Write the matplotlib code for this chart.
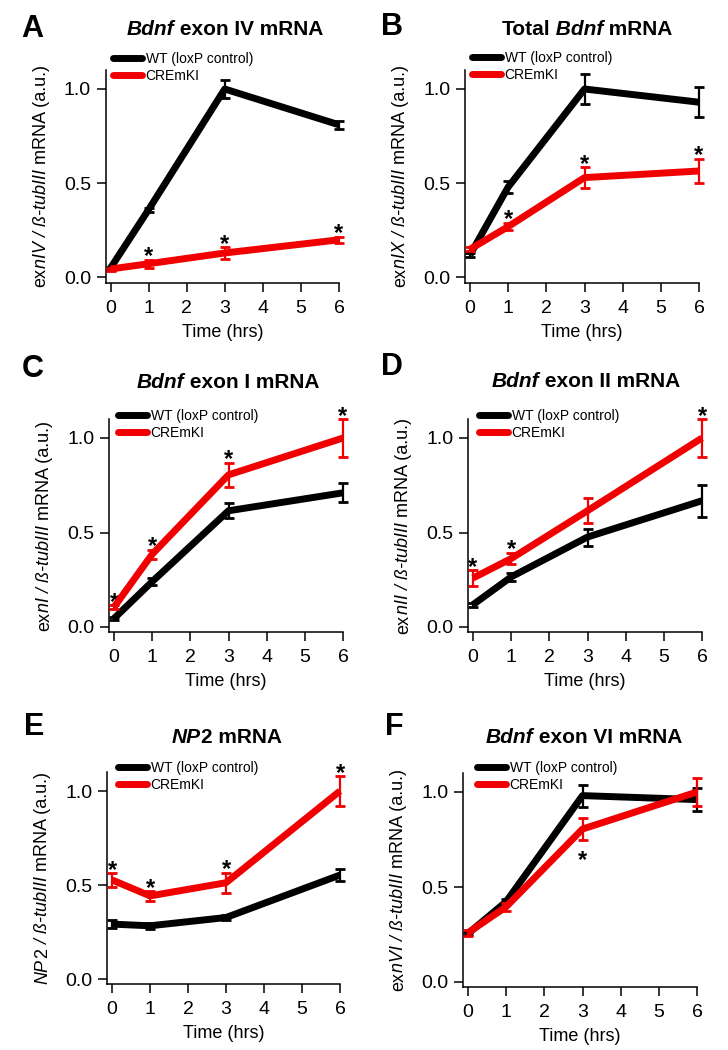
import numpy as np
import matplotlib
matplotlib.use('Agg')
import matplotlib.pyplot as plt
from matplotlib.lines import Line2D

plt.rcParams['font.family'] = ['Liberation Sans', 'DejaVu Sans']

# data
times = [0, 1, 3, 6]

a_wt = [0.05, 0.36, 1.00, 0.81]
a_wt_err = [0.008, 0.01, 0.05, 0.02]
a_cre = [0.045, 0.073, 0.13, 0.20]
a_cre_err = [0.008, 0.02, 0.03, 0.015]
a_stars = [1, 3, 6]

b_wt = [0.12, 0.48, 1.00, 0.93]
b_wt_err = [0.01, 0.03, 0.08, 0.08]
b_cre = [0.15, 0.27, 0.53, 0.565]
b_cre_err = [0.01, 0.02, 0.055, 0.065]
b_stars = [1, 3, 6]

c_wt = [0.045, 0.24, 0.615, 0.71]
c_wt_err = [0.01, 0.02, 0.04, 0.05]
c_cre = [0.105, 0.385, 0.805, 1.00]
c_cre_err = [0.01, 0.025, 0.064, 0.10]
c_stars = [0, 1, 3, 6]

d_wt = [0.118, 0.265, 0.476, 0.668]
d_wt_err = [0.01, 0.02, 0.045, 0.085]
d_cre = [0.259, 0.362, 0.615, 1.00]
d_cre_err = [0.04, 0.03, 0.065, 0.10]
d_stars = [0, 1, 6]

e_wt = [0.292, 0.283, 0.327, 0.553]
e_wt_err = [0.02, 0.015, 0.015, 0.03]
e_cre = [0.527, 0.442, 0.512, 1.00]
e_cre_err = [0.035, 0.025, 0.053, 0.078]
e_stars = [0, 1, 3, 6]

f_wt = [0.255, 0.423, 0.981, 0.96]
f_wt_err = [0.01, 0.015, 0.058, 0.062]
f_cre = [0.259, 0.396, 0.805, 1.00]
f_cre_err = [0.015, 0.02, 0.058, 0.074]
f_stars = [3]

W, H = 728, 1050
RED = '#f00000'
LW = 5

fig = plt.figure(figsize=(W / 100, H / 100), dpi=100)
rend = fig.canvas.get_renderer()


def rich_text(x, y, parts, size, weight='normal', vertical=False):
    # pieces of text with different styles, centred on (x, y) in pixels
    items = []
    total = 0
    for s, style in parts:
        t = fig.text(0, 0, s, fontsize=size, fontstyle=style, fontweight=weight,
                     rotation=90 if vertical else 0, rotation_mode='anchor',
                     ha='left', va='baseline')
        bb = t.get_window_extent(rend)
        step = bb.height if vertical else bb.width
        items.append((t, step))
        total += step
    if vertical:
        pos = y + total / 2
        for t, step in items:
            t.set_position((x / W, 1 - pos / H))
            pos -= step
    else:
        pos = x - total / 2
        for t, step in items:
            t.set_position((pos / W, 1 - y / H))
            pos += step


def series(ax, y, err, color, z):
    line, caps, bars = ax.errorbar(times, y, yerr=err, color=color, lw=LW, elinewidth=1.6,
                                   capsize=3.5, capthick=2, clip_on=False, zorder=z)
    line.set_solid_capstyle('butt')
    line.set_solid_joinstyle('round')


def panel(px0, px6, py0, py1, wt, wt_err, cre, cre_err, stars, below=False):
    x0, x1, y0, y1 = -0.13, 6.0, -0.027, 1.1
    sx = (px6 - px0) / 6
    sy = py0 - py1
    left = px0 + x0 * sx
    right = px0 + x1 * sx
    bottom = py0 - y0 * sy
    top = py0 - y1 * sy
    ax = fig.add_axes([left / W, 1 - bottom / H, (right - left) / W, (bottom - top) / H])
    series(ax, wt, wt_err, 'k', 3)
    series(ax, cre, cre_err, RED, 4)
    for t in stars:
        i = times.index(t)
        if below:
            ys = cre[i] - cre_err[i] - 0.108
        else:
            ys = cre[i] + cre_err[i] + 0.016
        ax.text(t, ys, '*', fontsize=17, fontweight='bold', ha='center', va='center')
    ax.set_xlim(x0, x1)
    ax.set_ylim(y0, y1)
    ax.set_xticks(range(7))
    ax.set_yticks([0, 0.5, 1.0])
    ax.set_yticklabels(['0.0', '0.5', '1.0'])
    for s in ['top', 'right']:
        ax.spines[s].set_visible(False)
    for s in ['left', 'bottom']:
        ax.spines[s].set_linewidth(1.1)
    ax.tick_params(direction='out', length=6.5, width=1.1, labelsize=14)
    ax.tick_params(axis='x', pad=6)
    ax.tick_params(axis='y', pad=4)
    ax.set_xlabel('Time (hrs)', fontsize=13, labelpad=5)
    return ax, left, top


def legend(ax, lx, ly):
    handles = [Line2D([], [], color='k', lw=LW, solid_capstyle='round'),
               Line2D([], [], color=RED, lw=LW, solid_capstyle='round')]
    ax.legend(handles, ['WT (loxP control)', 'CREmKI'], loc='upper left',
              bbox_to_anchor=(lx / W, 1 - ly / H), bbox_transform=fig.transFigure,
              frameon=False, fontsize=10, borderpad=0, borderaxespad=0,
              handlelength=2.1, handletextpad=0.25, labelspacing=0.2)


# panel A
ax, l, t = panel(110.5, 339, 277.5, 89, a_wt, a_wt_err, a_cre, a_cre_err, a_stars)
legend(ax, 113, 52)
rich_text(l - 60, 176, [('ex', 'normal'), ('nIV / ß-tubIII', 'italic'), (' mRNA (a.u.)', 'normal')], 13, vertical=True)
rich_text(225, 35, [('Bdnf', 'italic'), (' exon IV mRNA', 'normal')], 15, weight='bold')
fig.text(32 / W, 1 - 37 / H, 'A', fontsize=22, fontweight='bold', ha='center', va='baseline')

# panel B
ax, l, t = panel(470, 699, 277.5, 89, b_wt, b_wt_err, b_cre, b_cre_err, b_stars)
legend(ax, 472, 51)
rich_text(l - 60, 176, [('ex', 'normal'), ('nIX / ß-tubIII', 'italic'), (' mRNA (a.u.)', 'normal')], 13, vertical=True)
rich_text(587, 35, [('Total', 'normal'), (' Bdnf', 'italic'), (' mRNA', 'normal')], 15, weight='bold')
fig.text(392 / W, 1 - 35 / H, 'B', fontsize=22, fontweight='bold', ha='center', va='baseline')

# panel C
ax, l, t = panel(114, 343, 627, 438, c_wt, c_wt_err, c_cre, c_cre_err, c_stars)
legend(ax, 118, 409)
rich_text(l - 60, 526, [('ex', 'normal'), ('nI / ß-tubIII', 'italic'), (' mRNA (a.u.)', 'normal')], 13, vertical=True)
rich_text(228, 388, [('Bdnf', 'italic'), (' exon I mRNA', 'normal')], 15, weight='bold')
fig.text(33 / W, 1 - 377 / H, 'C', fontsize=22, fontweight='bold', ha='center', va='baseline')

# panel D
ax, l, t = panel(473, 702, 627, 438, d_wt, d_wt_err, d_cre, d_cre_err, d_stars)
legend(ax, 479, 409)
rich_text(l - 60, 526, [('ex', 'normal'), ('nII / ß-tubIII', 'italic'), (' mRNA (a.u.)', 'normal')], 13, vertical=True)
rich_text(586, 387, [('Bdnf', 'italic'), (' exon II mRNA', 'normal')], 15, weight='bold')
fig.text(392 / W, 1 - 375 / H, 'D', fontsize=22, fontweight='bold', ha='center', va='baseline')

# panel E
ax, l, t = panel(112, 340, 979, 791, e_wt, e_wt_err, e_cre, e_cre_err, e_stars)
legend(ax, 118, 761)
rich_text(l - 60, 878, [('NP', 'italic'), ('2', 'normal'), (' / ß-tubIII', 'italic'), (' mRNA (a.u.)', 'normal')], 13, vertical=True)
rich_text(227, 743, [('NP', 'italic'), ('2 mRNA', 'normal')], 15, weight='bold')
fig.text(34 / W, 1 - 735 / H, 'E', fontsize=22, fontweight='bold', ha='center', va='baseline')

# panel F
ax, l, t = panel(468, 697, 982, 792, f_wt, f_wt_err, f_cre, f_cre_err, f_stars, below=True)
legend(ax, 477, 761)
rich_text(l - 60, 880, [('ex', 'normal'), ('nVI / ß-tubIII', 'italic'), (' mRNA (a.u.)', 'normal')], 13, vertical=True)
rich_text(584, 743, [('Bdnf', 'italic'), (' exon VI mRNA', 'normal')], 15, weight='bold')
fig.text(394 / W, 1 - 735 / H, 'F', fontsize=22, fontweight='bold', ha='center', va='baseline')

fig.savefig('out.png', dpi=100)
